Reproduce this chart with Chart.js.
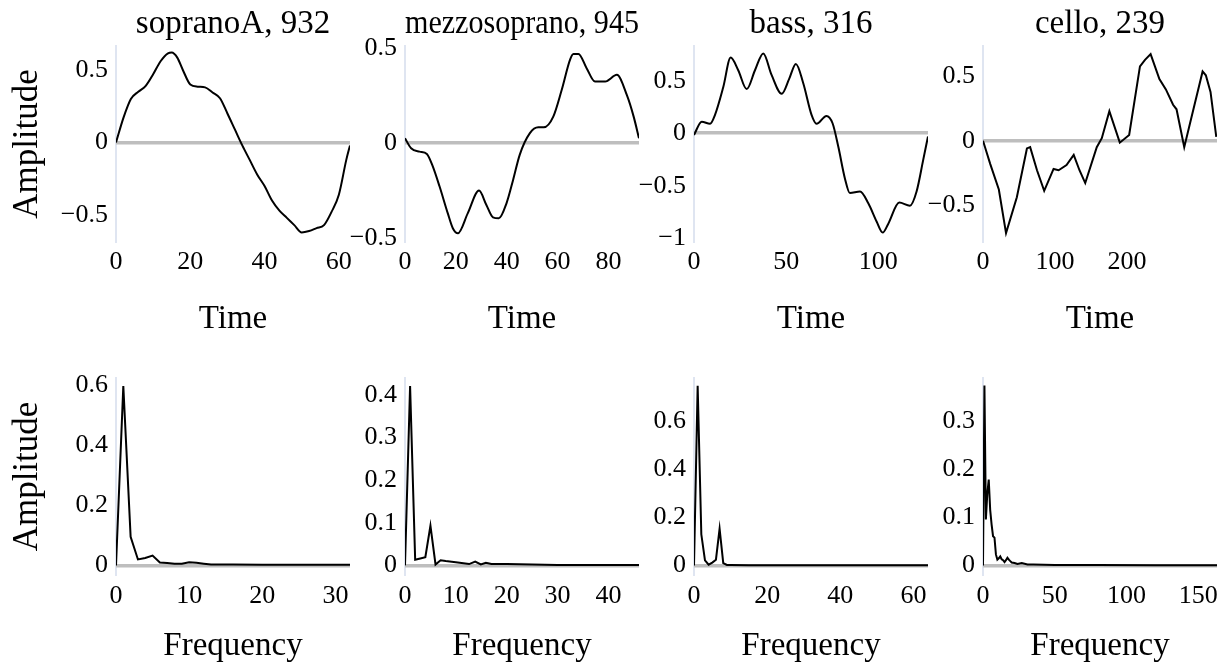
<!DOCTYPE html>
<html><head><meta charset="utf-8">
<script src="https://cdn.jsdelivr.net/npm/chart.js@4"></script>
<style>
html,body{margin:0;padding:0;background:#fff;width:1230px;height:666px;overflow:hidden;position:relative}
canvas{position:absolute}
</style>
</head><body>
<script>
// ---------- DATA ----------
const panelTitles = ['sopranoA, 932', 'mezzosoprano, 945', 'bass, 316', 'cello, 239'];

// time-domain waveforms (time, amplitude)
const sopranoTime = [0,2,4,6,8,10,12,14,15,16.5,18,20,22,24,26,28,30,32,34,36,38,40,42,44,46,48,50,52,54,56,58,60,62,63];
const sopranoWave = [0,0.17,0.30,0.35,0.39,0.47,0.56,0.615,0.62,0.585,0.50,0.40,0.385,0.38,0.345,0.305,0.20,0.09,-0.02,-0.12,-0.22,-0.30,-0.40,-0.47,-0.52,-0.57,-0.62,-0.61,-0.59,-0.57,-0.48,-0.36,-0.12,-0.02];

const mezzoTime = [0,2.4,5.7,8.6,10.7,13.6,16.8,18.8,20.8,24.7,29.1,32,34.6,36.9,39.9,42.5,45.1,49.1,52.4,54.6,58.3,61.6,64.9,66.2,68.2,71.4,74.7,78.7,83.3,87.2,89.9,92];
const mezzoWave = [0.026,-0.026,-0.044,-0.056,-0.114,-0.228,-0.368,-0.447,-0.474,-0.368,-0.249,-0.325,-0.39,-0.395,-0.316,-0.193,-0.061,0.053,0.084,0.084,0.14,0.28,0.44,0.47,0.47,0.395,0.325,0.325,0.36,0.254,0.14,0.026];

const bassTime = [0,4.2,8.7,11.4,15.9,19.9,24,28.6,33.1,37.6,42.1,47.6,51.7,55.3,59.3,63.8,66.5,71.9,75.2,78.3,81.9,84.6,90.1,94.6,99.1,102.4,105.4,111.4,117.2,120.8,124.4,127];
const bassWave = [-0.016,0.11,0.09,0.175,0.44,0.72,0.60,0.42,0.60,0.76,0.555,0.375,0.52,0.66,0.476,0.175,0.09,0.165,0.095,-0.127,-0.43,-0.57,-0.555,-0.667,-0.84,-0.946,-0.863,-0.66,-0.69,-0.555,-0.254,-0.03];

const celloTime = [0,10,22,32,47,61,65.5,75,85,98,105,116,126,134,142,158,165,175.5,190,203,218,225,232.8,245,254,264,268.8,279.5,292,305,309.5,316,324];
const celloWave = [0,-0.18,-0.38,-0.72,-0.44,-0.06,-0.05,-0.23,-0.39,-0.22,-0.23,-0.19,-0.11,-0.23,-0.33,-0.05,0.02,0.23,-0.015,0.045,0.58,0.63,0.675,0.48,0.40,0.28,0.245,-0.05,0.24,0.54,0.51,0.38,0.03];

// frequency spectra (frequency, amplitude)
const sopranoFreq = [0,1,2,3,4,5,6,7,8,9,10,11,12,13,16,20,25,32];
const sopranoSpec = [0,0.596,0.095,0.02,0.025,0.033,0.01,0.008,0.006,0.006,0.011,0.009,0.006,0.003,0.003,0.002,0.002,0.002];

const mezzoFreq = [0,1,2,3,4,5,6,7,8,10,12.6,13.8,14.9,15.9,17,20,25,30,46];
const mezzoSpec = [0,0.421,0.013,0.016,0.019,0.093,0.002,0.012,0.01,0.007,0.003,0.009,0.002,0.006,0.003,0.003,0.002,0.001,0.001];

const bassFreq = [0,1,2,3,4,5,6,7,8,9,10,15,20,30,40,64];
const bassSpec = [0,0.749,0.13,0.021,0.003,0.012,0.024,0.153,0.01,0.002,0.002,0.001,0.001,0.001,0.0005,0.0005];

const celloFreq = [0,1,2,3,4,5,6,7,8,9,10,11,12,13,14,15,16,17,18,19,20,22,24,27,31,35,50,80,120,163];
const celloSpec = [0,0.375,0.096,0.15,0.179,0.116,0.085,0.061,0.058,0.023,0.012,0.015,0.019,0.013,0.011,0.007,0.011,0.016,0.012,0.009,0.006,0.005,0.003,0.005,0.002,0.002,0.001,0.0008,0.0006,0.0005];

// tick labels
const timeXTicks = [[0,20,40,60],[0,20,40,60,80],[0,50,100],[0,100,200]];
const freqXTicks = [[0,10,20,30],[0,10,20,30,40],[0,20,40,60],[0,50,100,150]];
const timeYTicks = [[-0.5,0,0.5],[-0.5,0,0.5],[-1,-0.5,0,0.5],[-0.5,0,0.5]];
const freqYTicks = [[0,0.2,0.4,0.6],[0,0.1,0.2,0.3,0.4],[0,0.2,0.4,0.6],[0,0.1,0.2,0.3]];

// axis ranges
const timeXMax = [63,92,127,325];
const freqXMax = [32,46,64,163];
const timeYRange = [[-0.693,0.672],[-0.525,0.517],[-1.045,0.84],[-0.797,0.746]];
const freqYRange = [[-0.035,0.626],[-0.025,0.442],[-0.044,0.786],[-0.022,0.393]];

const timeSeries = [[sopranoTime,sopranoWave],[mezzoTime,mezzoWave],[bassTime,bassWave],[celloTime,celloWave]];
const freqSeries = [[sopranoFreq,sopranoSpec],[mezzoFreq,mezzoSpec],[bassFreq,bassSpec],[celloFreq,celloSpec]];

// ---------- DRAW ----------
const FONT = 'Liberation Serif';
function fmt(v){ return (v < 0 ? '\u2212' : '') + String(Math.abs(v)); }

function panel(row, col) {
  const [xs, ys] = row === 0 ? timeSeries[col] : freqSeries[col];
  const xTicks = row === 0 ? timeXTicks[col] : freqXTicks[col];
  const yTicks = row === 0 ? timeYTicks[col] : freqYTicks[col];
  const xMax = row === 0 ? timeXMax[col] : freqXMax[col];
  const yRange = row === 0 ? timeYRange[col] : freqYRange[col];
  const smooth = row === 0 && col < 3;

  const plotLeft = 116 + col * 289;
  const plotW = 234;
  const W = col === 0 ? 116 : 70;
  const rightPad = 13;
  const top = row === 0 ? 0 : 347;
  const padTop = row === 0 ? 0 : 30;
  const titleH = row === 0 ? 45 : 0;
  const plotH = row === 0 ? 198 : 199;
  const xH = row === 0 ? 100 : 90;

  const cv = document.createElement('canvas');
  const cw = W + plotW + rightPad;
  const ch = padTop + titleH + plotH + xH;
  cv.width = cw; cv.height = ch;
  cv.style.width = cw + 'px'; cv.style.height = ch + 'px';
  cv.style.left = (plotLeft - W) + 'px'; cv.style.top = top + 'px';
  document.body.appendChild(cv);

  new Chart(cv, {
    type: 'line',
    data: { datasets: [{
      data: xs.map((x, i) => ({ x: x, y: ys[i] })),
      borderColor: '#000', borderWidth: 2, pointRadius: 0, fill: false,
      tension: 0, cubicInterpolationMode: smooth ? 'monotone' : 'default'
    }]},
    options: {
      responsive: false, animation: false, devicePixelRatio: 1,
      layout: { padding: { left: 0, right: rightPad, top: padTop, bottom: 0 } },
      plugins: {
        legend: { display: false }, tooltip: { enabled: false },
        title: row === 0 ? {
          display: true, text: panelTitles[col], fullSize: false, color: '#000',
          font: { family: FONT, size: 33, weight: 'normal', lineHeight: 1 },
          padding: { top: 8, bottom: 4 }
        } : { display: false }
      },
      scales: {
        x: {
          type: 'linear', min: 0, max: xMax,
          afterBuildTicks: s => { s.ticks = xTicks.map(v => ({ value: v })); },
          afterFit: s => { s.height = xH; },
          grid: { drawTicks: false,
                  color: c => (c.tick && c.tick.value === 0) ? '#dfe5f1' : 'rgba(0,0,0,0)',
                  lineWidth: 2 },
          border: { display: false },
          ticks: { padding: row === 0 ? 4 : 5, color: '#000', autoSkip: false, maxRotation: 0,
                   font: { family: FONT, size: 26 }, callback: v => fmt(v) },
          title: { display: true, text: row === 0 ? 'Time' : 'Frequency', color: '#000',
                   font: { family: FONT, size: 33, lineHeight: 1.2 },
                   padding: { top: 0, bottom: row === 0 ? 4 : 0 } }
        },
        y: {
          type: 'linear', min: yRange[0], max: yRange[1],
          afterBuildTicks: s => { s.ticks = yTicks.map(v => ({ value: v })); },
          afterFit: s => { s.width = W; },
          grid: { drawTicks: false,
                  color: c => (c.tick && c.tick.value === 0) ? '#bebebe' : 'rgba(0,0,0,0)',
                  lineWidth: c => (c.tick && c.tick.value === 0) ? 3.5 : 0 },
          border: { display: false },
          ticks: { padding: 8, color: '#000', autoSkip: false,
                   font: { family: FONT, size: 26 }, callback: v => fmt(v) },
          title: col === 0 ? { display: true, text: 'Amplitude', color: '#000',
                   font: { family: FONT, size: 35, lineHeight: 1.2 },
                   padding: { top: 7, bottom: 0 } } : { display: false }
        }
      }
    }
  });
}

for (let r = 0; r < 2; r++) for (let c = 0; c < 4; c++) panel(r, c);
</script>
</body></html>
